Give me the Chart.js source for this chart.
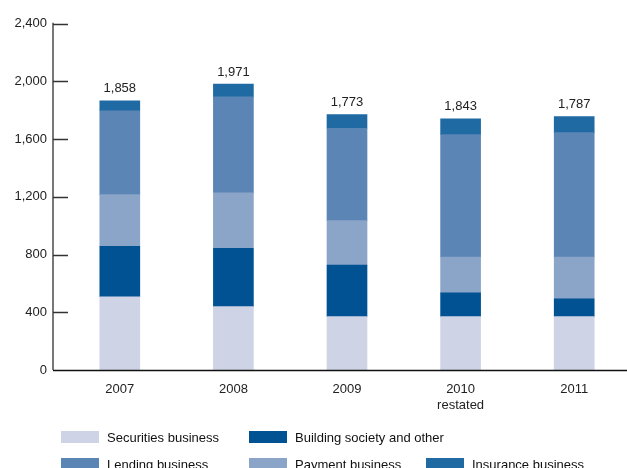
<!DOCTYPE html>
<html>
<head>
<meta charset="utf-8">
<script src="https://cdn.jsdelivr.net/npm/chart.js@4.4.1/dist/chart.umd.min.js"></script>
<style>
  html, body { margin: 0; padding: 0; background: #fff; overflow: hidden; }
  #wrap { width: 631px; height: 468px; position: relative; }
</style>
</head>
<body>
<div id="wrap"><canvas id="chart"></canvas></div>
<script>
const years = [["2007"], ["2008"], ["2009"], ["2010", "restated"], ["2011"]];
const totals = [1858, 1971, 1773, 1843, 1787];
const securities = [508, 439, 370, 370, 370];
const building = [349, 405, 357, 165, 124];
const payment = [359, 384, 309, 247, 288];
const lending = [581, 665, 638, 850, 864];
const insurance = [69, 89, 96, 110, 110];
const yTicks = [0, 400, 800, 1200, 1600, 2000, 2400];

const colors = {
    securities: "#ced4e6",
    building: "#005293",
    payment: "#8ba5c9",
    lending: "#5a85b5",
    insurance: "#206aa3"
};

const font = "Arial, 'Liberation Sans', sans-serif";

// legend slots: [box left x, centre y]
const legendSlots = [[61, 437], [249, 437], [61, 464], [249, 464], [426, 464]];
const legendOrder = ["Securities business", "Building society and other", "Lending business", "Payment business", "Insurance business"];

const extras = {
    id: "extras",
    afterDraw(chart) {
        const { ctx, chartArea, scales: { x, y } } = chart;
        ctx.save();

        // y axis line, offset left of plot
        const ax = chartArea.left - 10;
        ctx.strokeStyle = "#777";
        ctx.lineWidth = 2;
        ctx.beginPath();
        ctx.moveTo(ax, y.getPixelForValue(2400) - 1);
        ctx.lineTo(ax, chartArea.bottom);
        ctx.stroke();

        ctx.strokeStyle = "#333";
        ctx.lineWidth = 1.5;
        yTicks.forEach(v => {
            if (v === 0) return;
            const py = Math.round(y.getPixelForValue(v)) + 0.5;
            ctx.beginPath();
            ctx.moveTo(ax, py);
            ctx.lineTo(ax + 15, py);
            ctx.stroke();
        });

        // x axis line
        ctx.strokeStyle = "#111";
        ctx.lineWidth = 1.5;
        ctx.beginPath();
        ctx.moveTo(ax, chartArea.bottom + 0.5);
        ctx.lineTo(chart.width, chartArea.bottom + 0.5);
        ctx.stroke();

        // totals above bars
        ctx.fillStyle = "#222";
        ctx.font = `13px ${font}`;
        ctx.textAlign = "center";
        ctx.textBaseline = "middle";
        totals.forEach((t, i) => {
            const sum = securities[i] + building[i] + payment[i] + lending[i] + insurance[i];
            ctx.fillText(t.toLocaleString("en-US"), x.getPixelForValue(i), y.getPixelForValue(sum) - 12);
        });

        // legend
        ctx.textAlign = "left";
        legendOrder.forEach((name, k) => {
            const ds = chart.data.datasets.find(d => d.label === name);
            const [bx, cy] = legendSlots[k];
            ctx.fillStyle = ds.backgroundColor;
            ctx.fillRect(bx, cy - 6, 38, 12);
            ctx.fillStyle = "#111";
            ctx.fillText(name, bx + 46, cy + 1);
        });

        ctx.restore();
    }
};

new Chart(document.getElementById("chart"), {
    type: "bar",
    data: {
        labels: years,
        datasets: [
            { label: "Securities business", data: securities, backgroundColor: colors.securities },
            { label: "Building society and other", data: building, backgroundColor: colors.building },
            { label: "Payment business", data: payment, backgroundColor: colors.payment },
            { label: "Lending business", data: lending, backgroundColor: colors.lending },
            { label: "Insurance business", data: insurance, backgroundColor: colors.insurance }
        ]
    },
    options: {
        responsive: true,
        maintainAspectRatio: false,
        animation: false,
        datasets: { bar: { barThickness: 40, borderWidth: 0 } },
        layout: { padding: { left: 13, top: 20, right: 0, bottom: 0 } },
        plugins: {
            legend: { display: false },
            tooltip: { enabled: false }
        },
        scales: {
            x: {
                stacked: true,
                grid: { display: false, drawTicks: false },
                border: { display: false },
                ticks: { color: "#222", font: { family: font, size: 13 }, padding: 12, maxRotation: 0 },
                afterFit: scale => { scale.height = 98; }
            },
            y: {
                stacked: true,
                min: 0,
                max: 2400,
                grid: { display: false, drawTicks: false },
                border: { display: false },
                ticks: {
                    stepSize: 400,
                    color: "#222",
                    padding: 16,
                    font: { family: font, size: 13 },
                    callback: v => v.toLocaleString("en-US")
                },
                afterFit: scale => { scale.width = 50; }
            }
        }
    },
    plugins: [extras]
});
</script>
</body>
</html>
